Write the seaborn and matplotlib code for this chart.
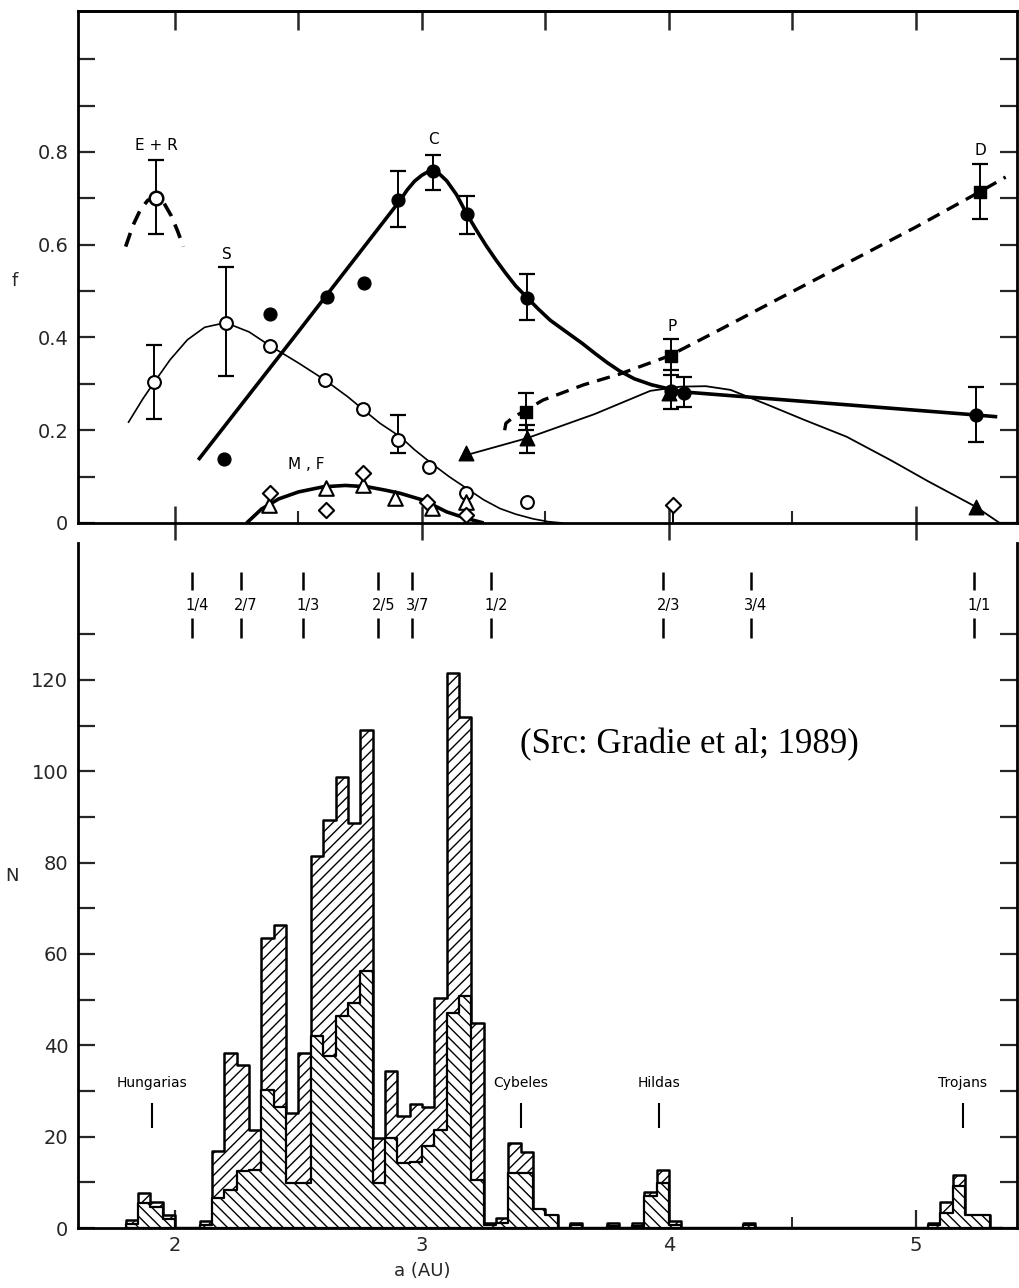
import numpy as np
import pandas as pd
import matplotlib
matplotlib.use("Agg")
import matplotlib.pyplot as plt
import seaborn as sns

# ------------------------------------------------------------------
# Top panel: fraction f of taxonomic classes vs semimajor axis a (AU)
# ------------------------------------------------------------------
# S class (open circles)
s_a = [1.915, 2.205, 2.385, 2.608, 2.761, 2.903, 3.03, 3.18, 3.426]
s_f = [0.303, 0.432, 0.382, 0.308, 0.245, 0.180, 0.120, 0.064, 0.046]
s_err_a = [1.915, 2.205, 2.903]
s_err_f = [0.303, 0.432, 0.180]
s_err_lo = [0.224, 0.316, 0.151]
s_err_hi = [0.384, 0.551, 0.233]
s_curve_a = [1.81, 1.87, 1.915, 1.98, 2.05, 2.12, 2.205, 2.30, 2.385, 2.50, 2.608,
             2.70, 2.761, 2.83, 2.912, 2.97, 3.04, 3.11, 3.18, 3.25, 3.317, 3.38,
             3.45, 3.51, 3.57]
s_curve_f = [0.216, 0.268, 0.303, 0.352, 0.395, 0.422, 0.432, 0.412, 0.382, 0.345,
             0.308, 0.272, 0.245, 0.215, 0.186, 0.158, 0.128, 0.100, 0.075, 0.050,
             0.031, 0.019, 0.009, 0.003, 0.0]

# E+R (open circle, dashed parabola)
er_a = [1.923]
er_f = [0.701]
er_lo = [0.623]
er_hi = [0.783]
er_curve_a = [1.80, 1.83, 1.86, 1.89, 1.923, 1.955, 1.985, 2.01, 2.034]
er_curve_f = [0.596, 0.642, 0.676, 0.696, 0.701, 0.690, 0.662, 0.630, 0.596]

# C class (filled circles)
c_a = [2.199, 2.385, 2.615, 2.767, 2.903, 3.043, 3.182, 3.426, 4.01, 4.06, 5.243]
c_f = [0.139, 0.450, 0.488, 0.518, 0.696, 0.758, 0.666, 0.486, 0.285, 0.280, 0.233]
c_err_a = [2.903, 3.043, 3.182, 3.426, 4.01, 4.06, 5.243]
c_err_f = [0.696, 0.758, 0.666, 0.486, 0.285, 0.280, 0.233]
c_err_lo = [0.639, 0.718, 0.623, 0.438, 0.245, 0.250, 0.175]
c_err_hi = [0.758, 0.794, 0.705, 0.537, 0.330, 0.315, 0.294]
c_curve_a = [2.094, 2.50, 2.912, 2.94, 2.97, 3.00, 3.02, 3.043, 3.07, 3.10, 3.14,
             3.182, 3.22, 3.26, 3.30, 3.34, 3.38, 3.426, 3.47, 3.52, 3.59, 3.65,
             3.70, 3.75, 3.80, 3.86, 3.93, 4.01, 4.05, 5.243, 5.33]
c_curve_f = [0.136, 0.413, 0.696, 0.718, 0.737, 0.750, 0.756, 0.758, 0.753, 0.738,
             0.708, 0.666, 0.632, 0.598, 0.567, 0.538, 0.511, 0.486, 0.462, 0.437,
             0.410, 0.387, 0.366, 0.346, 0.328, 0.311, 0.298, 0.288, 0.283, 0.233,
             0.229]

# P / D (filled squares, dashed line)
pd_a = [3.423, 4.009, 5.259]
pd_f = [0.240, 0.360, 0.714]
pd_lo = [0.200, 0.320, 0.655]
pd_hi = [0.280, 0.397, 0.774]
pd_curve_a = [3.335, 3.34, 3.37, 3.42, 3.49, 3.655, 3.80, 4.00, 4.20, 4.45, 4.72,
              5.00, 5.259, 5.364]
pd_curve_f = [0.200, 0.215, 0.228, 0.243, 0.265, 0.298, 0.321, 0.360, 0.415, 0.485,
              0.560, 0.638, 0.714, 0.746]

# filled triangles (thin line)
tri_a = [3.178, 3.426, 4.00, 5.243]
tri_f = [0.150, 0.183, 0.280, 0.035]
tri_err_a = [3.426]
tri_err_f = [0.183]
tri_err_lo = [0.150]
tri_err_hi = [0.212]
tri_curve_a = [3.17, 3.426, 3.70, 3.925, 4.047, 4.15, 4.25, 4.40, 4.55, 4.72, 4.90,
               5.05, 5.243, 5.34]
tri_curve_f = [0.145, 0.183, 0.235, 0.285, 0.294, 0.295, 0.287, 0.255, 0.222, 0.186,
               0.135, 0.090, 0.035, 0.0]

# M, F (open triangles, open diamonds)
mf_tri_a = [2.382, 2.611, 2.761, 2.892, 3.04, 3.18]
mf_tri_f = [0.039, 0.076, 0.082, 0.053, 0.032, 0.046]
mf_dia_a = [2.385, 2.611, 2.761, 3.02, 3.18, 4.015]
mf_dia_f = [0.064, 0.027, 0.107, 0.046, 0.018, 0.039]
mf_curve_a = [2.29, 2.35, 2.42, 2.50, 2.60, 2.69, 2.78, 2.85, 2.912, 3.00, 3.04,
              3.10, 3.18, 3.25]
mf_curve_f = [0.0, 0.030, 0.052, 0.067, 0.078, 0.081, 0.078, 0.071, 0.064, 0.050,
              0.040, 0.024, 0.010, 0.0]

class_labels = ["E + R", "S", "C", "M , F", "P", "D"]
class_label_a = [1.925, 2.21, 3.047, 2.53, 4.013, 5.26]
class_label_f = [0.813, 0.58, 0.828, 0.127, 0.423, 0.804]

# ------------------------------------------------------------------
# Bottom panel: number of asteroids N per 0.05 AU bin
# (total = outer outline, inner = lower subset)
# ------------------------------------------------------------------
bin_left = [1.80, 1.85, 1.90, 1.95,
            2.10, 2.15, 2.20, 2.25, 2.30, 2.35, 2.40, 2.45, 2.50, 2.55, 2.60,
            2.65, 2.70, 2.75, 2.80, 2.85, 2.90, 2.95, 3.00, 3.05, 3.10, 3.15,
            3.20, 3.25, 3.30, 3.35, 3.40, 3.45, 3.50, 3.60,
            3.75, 3.85, 3.90, 3.95, 4.00, 4.30,
            5.05, 5.10, 5.15, 5.20, 5.25]
total_n = [1.7, 7.6, 5.8, 2.9,
           1.5, 16.8, 38.3, 35.8, 21.5, 63.5, 66.4, 25.2, 38.3, 81.5, 89.4,
           98.8, 88.6, 109.0, 19.7, 34.3, 24.5, 27.2, 26.5, 50.4, 121.5, 111.8,
           44.9, 1.2, 2.1, 18.6, 16.6, 4.1, 2.9, 1.2,
           1.0, 1.0, 7.9, 12.8, 1.5, 1.2,
           1.2, 5.8, 11.5, 2.8, 2.8]
inner_n = [0.8, 5.4, 4.6, 2.0,
           0.7, 6.6, 8.4, 12.4, 12.8, 30.3, 26.6, 9.9, 9.9, 42.0, 37.6,
           46.4, 49.3, 56.2, 9.9, 19.7, 14.2, 14.5, 17.9, 21.5, 47.1, 50.7,
           10.6, 0.6, 1.0, 12.0, 12.0, 4.1, 2.9, 0.6,
           0.5, 0.5, 7.0, 9.9, 0.7, 0.6,
           0.6, 3.3, 9.1, 2.8, 2.8]

resonance_labels = ["1/4", "2/7", "1/3", "2/5", "3/7", "1/2", "2/3", "3/4", "1/1"]
resonance_a = [2.069, 2.268, 2.519, 2.823, 2.961, 3.281, 3.978, 4.331, 5.235]

group_labels = ["Hungarias", "Cybeles", "Hildas", "Trojans"]
group_a = [1.905, 3.40, 3.96, 5.19]

# ------------------------------------------------------------------
W, H = 1019, 1288
sns.set_style("ticks")
plt.rcParams["font.family"] = ["DejaVu Sans"]
plt.rcParams["hatch.linewidth"] = 1.0
plt.rcParams["hatch.color"] = "black"

fig = plt.figure(figsize=(W / 100, H / 100), dpi=100)
fig.patch.set_facecolor("white")

def frac_box(left, top, right, bottom):
    return [left / W, 1 - bottom / H, (right - left) / W, (bottom - top) / H]

ax1 = fig.add_axes(frac_box(78, 11, 1017, 523))
ax2 = fig.add_axes(frac_box(78, 543, 1017, 1228))

XLIM = (1.607, 5.41)
K = "black"

# ---------------- top panel ----------------
def curve(ax, xs, ys, lw, dashes=None):
    df = pd.DataFrame({"a": xs, "f": ys})
    sns.lineplot(data=df, x="a", y="f", ax=ax, color=K, lw=lw, sort=False,
                 estimator=None, zorder=2)
    line = ax.get_lines()[-1]
    line.set_solid_capstyle("butt")
    line.set_solid_joinstyle("round")
    if dashes is not None:
        line.set_dashes(dashes)
    return line

curve(ax1, s_curve_a, s_curve_f, 1.2)
curve(ax1, er_curve_a, er_curve_f, 2.6, dashes=(4, 2.5))
curve(ax1, c_curve_a, c_curve_f, 2.6)
curve(ax1, pd_curve_a, pd_curve_f, 2.4, dashes=(4, 2.5))
curve(ax1, tri_curve_a, tri_curve_f, 1.3)
curve(ax1, mf_curve_a, mf_curve_f, 2.6)

def errs(ax, xa, yf, lo, hi):
    yerr = [np.array(yf) - np.array(lo), np.array(hi) - np.array(yf)]
    ax.errorbar(xa, yf, yerr=yerr, fmt="none", ecolor=K, elinewidth=1.4,
                capsize=6, capthick=1.6, zorder=3)

errs(ax1, s_err_a, s_err_f, s_err_lo, s_err_hi)
errs(ax1, er_a, er_f, er_lo, er_hi)
errs(ax1, c_err_a, c_err_f, c_err_lo, c_err_hi)
errs(ax1, pd_a, pd_f, pd_lo, pd_hi)
errs(ax1, tri_err_a, tri_err_f, tri_err_lo, tri_err_hi)
# diamond at 4.0 with line down to zero
ax1.vlines([mf_dia_a[-1]], 0, mf_dia_f[-1], color=K, lw=1.4, zorder=3)

sns.scatterplot(x=s_a, y=s_f, ax=ax1, marker="o", s=85, facecolor="white",
                edgecolor=K, linewidth=1.5, zorder=5)
sns.scatterplot(x=er_a, y=er_f, ax=ax1, marker="o", s=95, facecolor="white",
                edgecolor=K, linewidth=1.8, zorder=5)
sns.scatterplot(x=c_a, y=c_f, ax=ax1, marker="o", s=85, facecolor=K,
                edgecolor=K, linewidth=1.0, zorder=5)
sns.scatterplot(x=pd_a, y=pd_f, ax=ax1, marker="s", s=75, facecolor=K,
                edgecolor=K, linewidth=1.0, zorder=5)
sns.scatterplot(x=tri_a, y=tri_f, ax=ax1, marker="^", s=110, facecolor=K,
                edgecolor=K, linewidth=1.0, zorder=5)
sns.scatterplot(x=mf_tri_a, y=mf_tri_f, ax=ax1, marker="^", s=110, facecolor="white",
                edgecolor=K, linewidth=1.5, zorder=6)
sns.scatterplot(x=mf_dia_a, y=mf_dia_f, ax=ax1, marker="D", s=60, facecolor="white",
                edgecolor=K, linewidth=1.5, zorder=6)

for lab, xa, yf in zip(class_labels, class_label_a, class_label_f):
    ax1.text(xa, yf, lab, ha="center", va="center", fontsize=11, color=K)

ax1.set_xlim(*XLIM)
ax1.set_ylim(0, 1.104)
ax1.set_xticks([2, 3, 4, 5])
ax1.set_xticks([2.5, 3.5, 4.5], minor=True)
ax1.set_xticklabels([])
ax1.tick_params(axis="x", which="major", direction="inout", length=25, width=1.8,
                bottom=True, top=False, labelbottom=False)
ax1.tick_params(axis="x", which="minor", direction="in", length=9, width=1.5,
                bottom=True, top=False)
ax1.set_yticks([0, 0.2, 0.4, 0.6, 0.8])
ax1.set_yticklabels(["0", "0.2", "0.4", "0.6", "0.8"])
ax1.set_yticks([0.1, 0.3, 0.5, 0.7, 0.9, 1.0], minor=True)
ax1.tick_params(axis="y", which="both", direction="in", length=12, width=1.6,
                left=True, right=True, labelsize=14, pad=7)
secx = ax1.secondary_xaxis("top")
secx.set_xticks([2, 2.5, 3, 3.5, 4, 4.5, 5])
secx.set_xticklabels([])
secx.tick_params(direction="in", length=14, width=1.8)
secx.spines["top"].set_linewidth(2.0)
ax1.set_xlabel("")
ax1.set_ylabel("f", rotation=0, fontsize=13)
ax1.yaxis.set_label_coords(-0.067, 0.455)
for sp in ax1.spines.values():
    sp.set_linewidth(2.0)
    sp.set_color(K)

# ---------------- bottom panel ----------------
edges = [round(1.80 + 0.05 * i, 3) for i in range(72)]   # 1.80 ... 5.35
centers = [b + 0.025 for b in bin_left]
hist_df = pd.DataFrame({"a": centers, "total": total_n, "inner": inner_n})

sns.histplot(data=hist_df, x="a", weights="total", bins=edges, element="step",
             fill=True, facecolor="white", edgecolor=K, hatch="///", linewidth=1.8,
             ax=ax2, zorder=2)
sns.histplot(data=hist_df, x="a", weights="inner", bins=edges, element="step",
             fill=True, facecolor="white", edgecolor=K, hatch="\\\\\\", linewidth=1.6,
             ax=ax2, zorder=3)

# resonance markers
ax2.vlines(resonance_a, 139.7, 143.6, color=K, lw=1.8)
ax2.vlines(resonance_a, 129.2, 133.6, color=K, lw=1.8)
for lab, xa in zip(resonance_labels, resonance_a):
    ax2.text(xa + 0.02, 136.4, lab, ha="center", va="center", fontsize=10.5, color=K)

# group markers
for lab, xa in zip(group_labels, group_a):
    ax2.text(xa, 31.8, lab, ha="center", va="center", fontsize=10, color=K)
    ax2.vlines([xa], 21.9, 27.4, color=K, lw=1.5)

ax2.text(3.398, 105.8, "(Src: Gradie et al; 1989)", ha="left", va="center",
         fontsize=25, family=["Liberation Serif", "DejaVu Serif"], color=K)

ax2.set_xlim(*XLIM)
ax2.set_ylim(0, 150)
ax2.set_xticks([2, 3, 4, 5])
ax2.set_xticklabels(["2", "3", "4", "5"])
ax2.set_xticks([2.5, 3.5, 4.5], minor=True)
ax2.tick_params(axis="x", which="major", direction="in", length=13, width=1.6,
                labelsize=14, pad=6)
ax2.tick_params(axis="x", which="minor", direction="in", length=8, width=1.4)
ax2.set_yticks(list(range(0, 121, 20)))
ax2.set_yticks(list(range(10, 131, 20)), minor=True)
ax2.tick_params(axis="y", which="both", direction="in", length=12, width=1.6,
                left=True, right=True, labelsize=14, pad=7)
ax2.set_xlabel("a (AU)", fontsize=13)
ax2.xaxis.set_label_coords((3.0 - XLIM[0]) / (XLIM[1] - XLIM[0]), -0.050)
ax2.set_ylabel("N", rotation=0, fontsize=13)
ax2.yaxis.set_label_coords(-0.070, 0.50)
ax2.spines["top"].set_visible(False)
for name in ["left", "right", "bottom"]:
    ax2.spines[name].set_linewidth(2.0)
    ax2.spines[name].set_color(K)

fig.savefig("out.png", dpi=100, facecolor="white")
